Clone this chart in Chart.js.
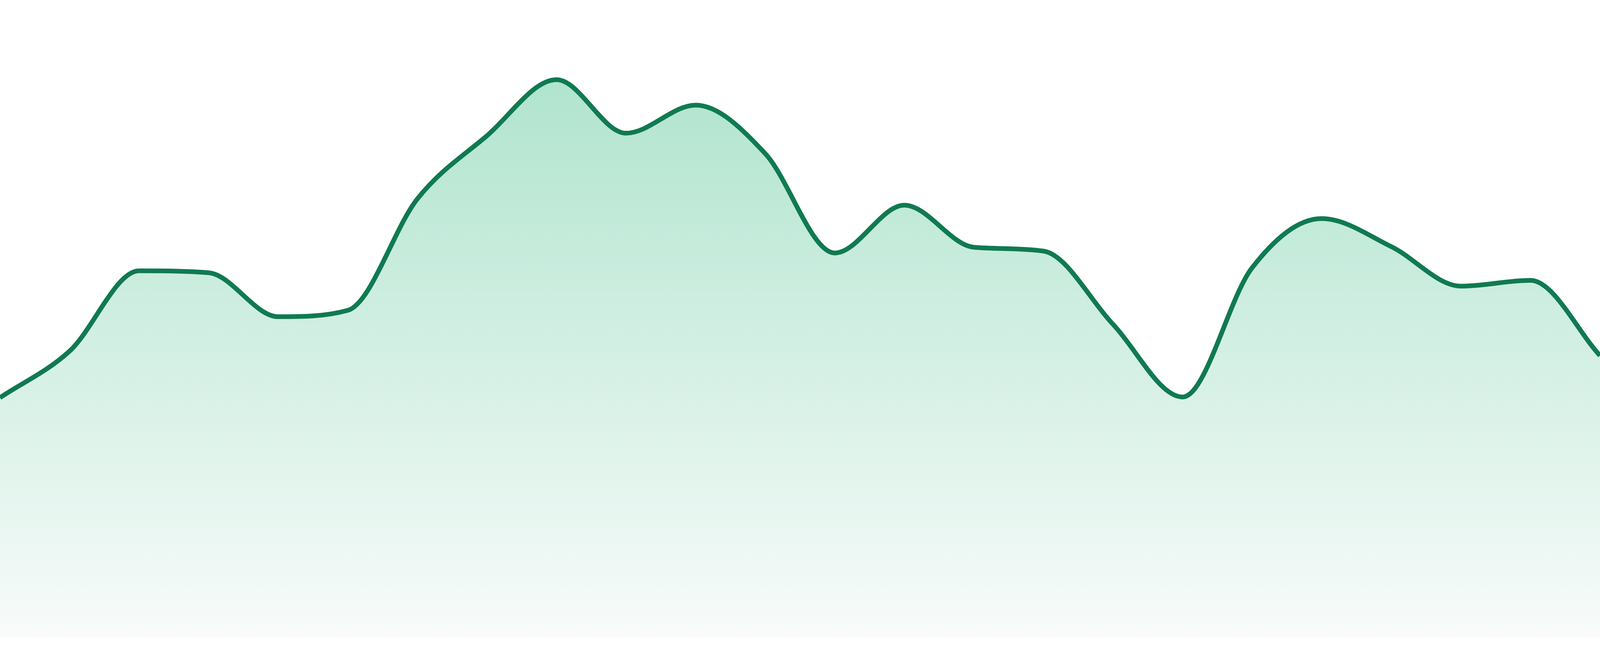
<!DOCTYPE html>
<html>
<head>
<meta charset="utf-8">
<script src="https://cdn.jsdelivr.net/npm/chart.js@4.4.1/dist/chart.umd.min.js"></script>
<style>
  html, body { margin: 0; padding: 0; background: #ffffff; overflow: hidden; }
  #wrap { position: relative; width: 100vw; height: 100vh; }
</style>
</head>
<body>
<div id="wrap"><canvas id="myChart"></canvas></div>
<script>
// x categories (no labels are shown on the chart)
var labels = ['1', '2', '3', '4', '5', '6', '7', '8', '9', '10', '11', '12',
              '13', '14', '15', '16', '17', '18', '19', '20', '21', '22', '23', '24'];

// values (y range 0..100)
var values = [37.6, 44.9, 57.5, 57.2, 50.3, 51.3, 68.8, 78.7, 87.5, 79.1, 83.5, 75.9,
              60.3, 67.8, 61.2, 60.6, 49.1, 37.7, 58.0, 65.7, 61.3, 55.1, 56.0, 44.2];

var yMin = 0;
var yMax = 100;

var lineColor = '#107a52';

// sizes below were measured on a 1680 px tall picture
var ky = window.innerHeight / 1680;

function fillGradient(context) {
	var chart = context.chart;
	var area = chart.chartArea;
	if (!area) return 'rgba(16,185,129,0.3)';
	var g = chart.ctx.createLinearGradient(0, area.top, 0, area.bottom);
	g.addColorStop(0, 'rgba(166,225,200,1)');
	g.addColorStop(1, 'rgba(248,251,250,1)');
	return g;
}

var ctx = document.getElementById('myChart').getContext('2d');

var chart = new Chart(ctx, {
	type: 'line',
	data: {
		labels: labels,
		datasets: [{
			data: values,
			borderColor: lineColor,
			borderWidth: 12 * ky,
			backgroundColor: fillGradient,
			fill: 'start',
			pointRadius: 0,
			pointHoverRadius: 0,
			cubicInterpolationMode: 'monotone'
		}]
	},
	options: {
		responsive: true,
		maintainAspectRatio: false,
		animation: false,
		layout: { padding: { top: 0, left: 0, right: 0, bottom: 48 * ky } },
		plugins: {
			legend: { display: false },
			tooltip: { enabled: false }
		},
		scales: {
			x: { display: false, offset: false },
			y: { display: false, min: yMin, max: yMax }
		}
	}
});
</script>
</body>
</html>
